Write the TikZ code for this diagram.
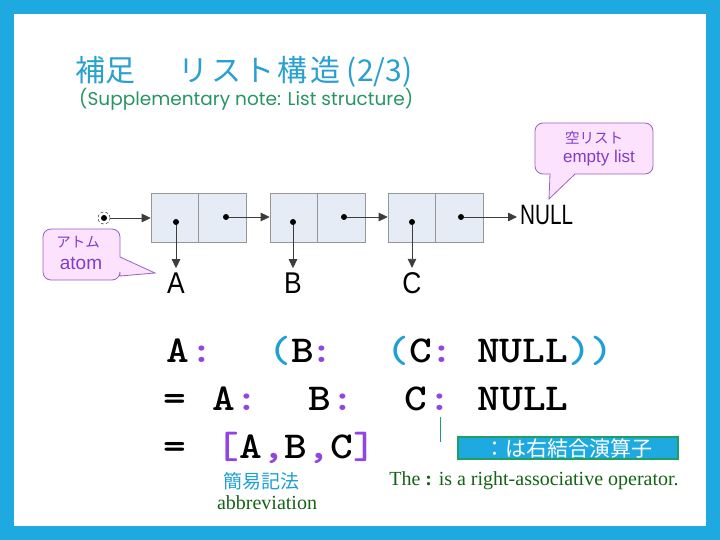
\documentclass[tikz,border=0pt]{standalone}
\usepackage{fontspec}
\setmainfont{Liberation Serif}
\newfontfamily\jpfont{Noto Sans CJK JP}
\newfontfamily\arialfont{Liberation Sans}
\newfontfamily\gothfont{Poppins}
\usetikzlibrary{arrows.meta}
\definecolor{frameblue}{RGB}{30,170,225}
\definecolor{titleblue}{RGB}{40,160,210}
\definecolor{subgreen}{RGB}{40,150,100}
\definecolor{cellfill}{RGB}{230,236,245}
\definecolor{cellline}{RGB}{150,150,150}
\definecolor{calfill}{RGB}{252,226,252}
\definecolor{calline}{RGB}{150,100,200}
\definecolor{caltext}{RGB}{130,60,200}
\definecolor{oppurple}{RGB}{145,70,225}
\definecolor{parblue}{RGB}{30,160,215}
\definecolor{notegreen}{RGB}{30,160,100}
\definecolor{darkgreen}{RGB}{20,100,20}
\definecolor{arrgray}{RGB}{60,60,60}
\newcommand\cdfont{\ttfamily\bfseries\fontsize{38}{40}\selectfont\addfontfeature{FakeBold=1.5}}
\newcommand\cd[1]{\scalebox{1.14}[1]{#1}}
\begin{document}
\begin{tikzpicture}[x=1pt,y=-1pt,
  cell/.style={draw=cellline, fill=cellfill, line width=0.6pt, minimum width=47.5pt, minimum height=49pt, inner sep=0},
  dot/.style={circle, fill=black, inner sep=0, minimum size=6pt},
  arr/.style={draw=arrgray, line width=0.8pt, -{Triangle[length=9pt,width=8.5pt]}},
  lbl/.style={font=\arialfont\fontsize{30}{32}\selectfont, anchor=base, inner sep=4pt},
  code/.style={font=\cdfont, inner sep=0, anchor=base},
  callout/.style={draw=calline, fill=calfill, line width=0.8pt},
  caltxt/.style={text=caltext, inner sep=0},
  op/.style={code, text=oppurple},
  par/.style={code, text=parblue}]
\useasboundingbox (0,0) rectangle (720,540);
\fill[frameblue] (0,0) rectangle (720,540);
\fill[white] (14,14) rectangle (706,526);

% title
\node[anchor=base west, inner sep=0, text=titleblue, font=\jpfont\fontsize{30}{32}\selectfont] (title) at (75,82)
  {補足　\hspace{13pt}{\addfontfeature{LetterSpace=10}リスト構造} (2/3)};
\node[anchor=base west, inner sep=0, text=subgreen, font=\gothfont\fontsize{18.5}{20}\selectfont] (sub) at (79,106)
  {(Supplementary note: List structure)};

% list cells
\node[cell] (c1l) at (174.75,217.5) {};
\node[cell] (c1r) at (222.25,217.5) {};
\node[cell] (c2l) at (293.75,217.5) {};
\node[cell] (c2r) at (341.25,217.5) {};
\node[cell] (c3l) at (411.75,217.5) {};
\node[cell] (c3r) at (459.25,217.5) {};

\node[dot] (d1a) at (176,222) {};
\node[dot] (d1b) at (226,217) {};
\node[dot] (d2a) at (293,222) {};
\node[dot] (d2b) at (344,217) {};
\node[dot] (d3a) at (412,222) {};
\node[dot] (d3b) at (461,217) {};

% start pointer
\node[circle, draw=arrgray, densely dashed, line width=0.5pt, minimum size=12pt, inner sep=0] (st) at (104,218) {};
\node[dot] (std) at (104,218) {};
\draw[arr] (st.east) -- (st.east -| c1l.west);

% labels
\node[lbl] (lA) at (176,293) {\scalebox{0.88}[1]{A}};
\node[lbl] (lB) at (293,293) {\scalebox{0.88}[1]{B}};
\node[lbl] (lC) at (412,293) {\scalebox{0.88}[1]{C}};
\node[anchor=base west, inner sep=0, font=\arialfont\fontsize{28}{30}\selectfont] (null) at (520,225) {\scalebox{0.74}[1]{NULL}};

\draw[arr] (d1a) -- (lA.north);
\draw[arr] (d2a) -- (lB.north);
\draw[arr] (d3a) -- (lC.north);
\draw[arr] (d1b) -- (d1b -| c2l.west);
\draw[arr] (d2b) -- (d2b -| c3l.west);
\draw[arr] (d3b) -- ([xshift=-3pt]d3b -| null.west);

% callout empty list
\draw[callout] (549,199) -- (575,174) [rounded corners=8pt] -- (653,174) -- (653,123) -- (535,123) -- (535,174) [sharp corners] -- (550,174) -- cycle;
\node[caltxt, font=\jpfont\fontsize{14.5}{16}\selectfont] (el1) at (594,138) {空リスト};
\node[caltxt, font=\arialfont\fontsize{17}{19}\selectfont, anchor=base] (el2) at (599,163) {empty list};

% callout atom
\draw[callout] (155,273) -- (120,276) [rounded corners=8pt] -- (120,280) -- (43,280) -- (43,229) -- (120,229) [sharp corners] -- (120,257) -- cycle;
\node[caltxt, font=\jpfont\fontsize{14.5}{16}\selectfont] (at1) at (78,242) {アトム};
\node[caltxt, font=\arialfont\fontsize{19}{21}\selectfont, anchor=base] (at2) at (81,269) {atom};

% code line 1
\node[code] (l1a) at (178,362) {\cd{A}};
\node[op] (l1b) at (202,362) {\cd{:}};
\node[par] (l1c) at (280,362) {\cd{(}};
\node[code] (l1d) at (303,362) {\cd{B}};
\node[op] (l1e) at (322,362) {\cd{:}};
\node[par] (l1f) at (398,362) {\cd{(}};
\node[code] (l1g) at (421,362) {\cd{C}};
\node[op] (l1h) at (442,362) {\cd{:}};
\node[code, anchor=base west] (l1i) at (477,362) {\cd{NULL\textcolor{parblue}{))}}};

% code line 2
\node[code] (l2a) at (175,410) {\cd{=}};
\node[code] (l2b) at (224,410) {\cd{A}};
\node[op] (l2c) at (247,410) {\cd{:}};
\node[code] (l2d) at (320,410) {\cd{B}};
\node[op] (l2e) at (343,410) {\cd{:}};
\node[code] (l2f) at (416,410) {\cd{C}};
\node[op] (l2g) at (440,410) {\cd{:}};
\node[code] (l2h) at (523,410) {\cd{NULL}};

% code line 3
\node[code] (l3a) at (175,458) {\cd{=}};
\node[code, anchor=base west] (l3b) at (216.5,458) {\cd{\textcolor{oppurple}{[}A\textcolor{oppurple}{,}B\textcolor{oppurple}{,}C\textcolor{oppurple}{]}}};

% note
\coordinate (g1) at (440,417);
\coordinate (g2) at (440,442);
\draw[notegreen, line width=1pt] (g1) -- (g2);
\node[draw=notegreen, line width=1.5pt, fill=frameblue, text=white, minimum width=220pt, minimum height=22pt, inner sep=0,
  font=\jpfont\fontsize{21}{22}\selectfont] (nb) at (568,448) {：は右結合演算子};
\node[anchor=base, inner sep=0, text=darkgreen, font=\fontsize{20}{22}\selectfont] (eng) at (534,485)
  {The \textbf{:} is a right-associative operator.};

\node[inner sep=0, text=parblue, font=\jpfont\fontsize{19}{21}\selectfont] (ab1) at (261,481) {簡易記法};
\node[anchor=base, inner sep=0, text=darkgreen, font=\fontsize{20}{22}\selectfont] (ab2) at (267,509) {abbreviation};
\end{tikzpicture}
\end{document}
